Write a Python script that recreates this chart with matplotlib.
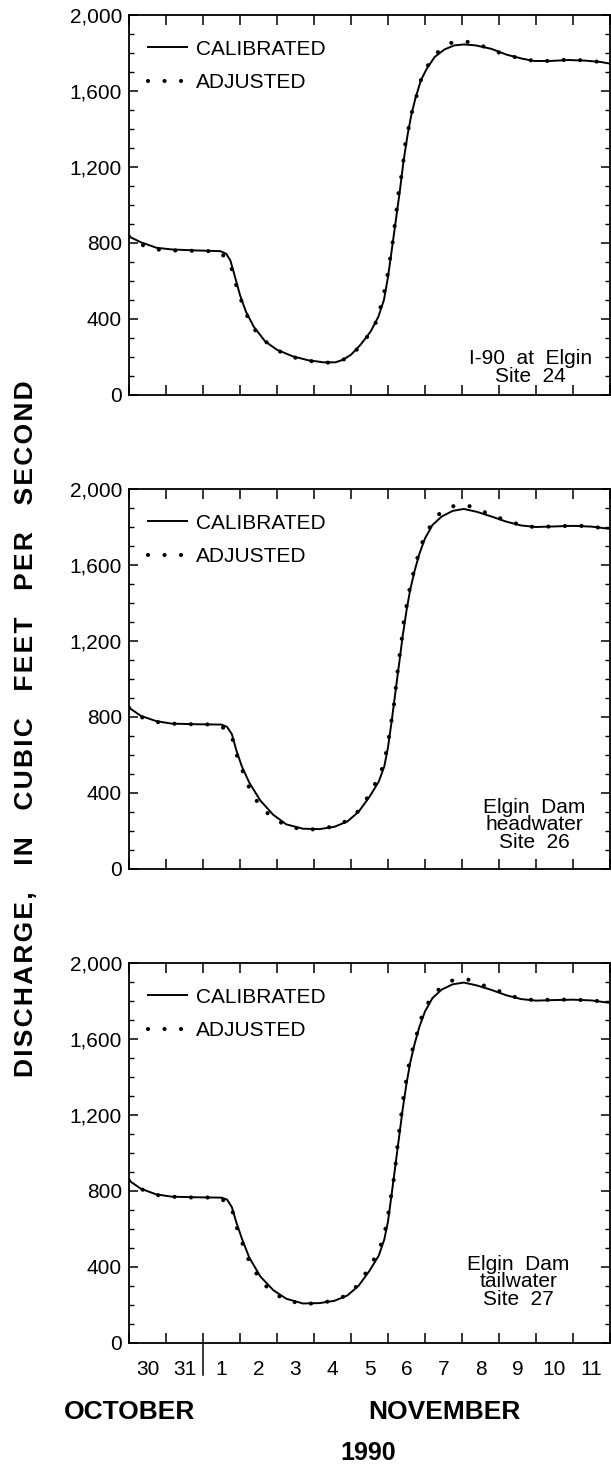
import numpy as np
import matplotlib
matplotlib.use('agg')
import matplotlib.pyplot as plt
import matplotlib.ticker as mticker

plt.rcParams['font.family'] = ['Liberation Sans', 'DejaVu Sans']

# Time axis: days after 0000 hours, October 30, 1990
day_labels = ['30', '31', '1', '2', '3', '4', '5', '6', '7', '8', '9', '10', '11']
month_labels = ['OCTOBER', 'NOVEMBER']
year_label = '1990'
y_words = ['DISCHARGE,', 'IN', 'CUBIC', 'FEET', 'PER', 'SECOND']
site_labels = ['I-90  at  Elgin\nSite  24',
               'Elgin  Dam\nheadwater\nSite  26',
               'Elgin  Dam\ntailwater\nSite  27']

# Site 24 -- I-90 at Elgin
s24_cal_t = [0.0, 0.32, 0.74, 1.16, 1.79, 2.47, 2.63, 2.74, 2.84, 3.0, 3.16, 3.37, 3.68, 4.0,
             4.42, 4.84, 5.26, 5.58, 5.79, 6.0, 6.26, 6.53, 6.74, 6.89, 7.0, 7.1, 7.21, 7.32,
             7.42, 7.53, 7.63, 7.74, 7.89, 8.05, 8.26, 8.53, 8.79, 9.05, 9.37, 9.79, 10.21,
             10.63, 10.95, 11.37, 11.89, 12.32, 12.74, 13.0]
s24_cal_q = [834, 804, 775, 766, 761, 757, 743, 708, 639, 526, 439, 360, 282, 238,
             204, 183, 172, 172, 186, 212, 265, 334, 412, 500, 621, 761, 917, 1074,
             1231, 1370, 1474, 1561, 1657, 1718, 1779, 1819, 1840, 1845, 1840, 1822, 1791,
             1770, 1758, 1758, 1763, 1760, 1753, 1744]
s24_adj_t = [0.0, 0.32, 0.74, 1.17, 1.6, 2.02, 2.47, 2.74, 2.84, 3.0, 3.14, 3.35, 3.63, 3.98,
             4.35, 4.79, 5.21, 5.55, 5.95, 6.24, 6.51, 6.72, 6.93, 7.0, 7.07, 7.14, 7.19,
             7.24, 7.29, 7.37, 7.42, 7.47, 7.56, 7.65, 7.77, 7.89, 8.06, 8.32, 8.66, 9.08,
             9.51, 9.89, 10.21, 10.53, 10.95, 11.37, 11.84, 12.32, 12.74, 13.0]
s24_adj_q = [834, 792, 766, 761, 759, 759, 752, 691, 613, 517, 439, 355, 291, 238,
             204, 181, 172, 169, 198, 256, 325, 399, 569, 647, 735, 822, 909,
             987, 1074, 1161, 1239, 1326, 1408, 1492, 1573, 1657, 1730, 1800, 1852, 1862,
             1840, 1810, 1788, 1774, 1758, 1758, 1765, 1761, 1753, 1744]

# Site 26 -- Elgin Dam headwater
s26_cal_t = [0.0, 0.32, 0.74, 1.16, 1.8, 2.5, 2.65, 2.78, 2.9, 3.05, 3.25, 3.55, 3.9, 4.25,
             4.7, 5.15, 5.55, 5.9, 6.2, 6.5, 6.75, 6.9, 7.0, 7.1, 7.2, 7.3, 7.4, 7.5, 7.6,
             7.72, 7.85, 8.0, 8.2, 8.45, 8.75, 9.05, 9.4, 9.8, 10.2, 10.6, 11.0, 11.5, 12.0,
             12.5, 13.0]
s26_cal_q = [849, 806, 778, 765, 762, 760, 748, 710, 625, 540, 455, 360, 285, 235,
             212, 210, 222, 250, 300, 380, 460, 540, 640, 780, 930, 1080, 1230, 1360, 1470,
             1570, 1660, 1740, 1810, 1855, 1885, 1895, 1880, 1855, 1828, 1808, 1800, 1803, 1806,
             1802, 1790]
s26_adj_t = [0.0, 0.32, 0.74, 1.16, 1.59, 2.01, 2.46, 2.78, 2.85, 3.01, 3.14, 3.33, 3.56, 3.86,
             4.23, 4.67, 5.11, 5.55, 5.92, 6.24, 6.48, 6.69, 6.87, 6.96, 7.03, 7.1, 7.17,
             7.21, 7.26, 7.31, 7.37, 7.42, 7.49, 7.56, 7.66, 7.77, 7.9, 8.09, 8.33, 8.69,
             9.12, 9.55, 9.94, 10.33, 10.71, 11.0, 11.45, 11.87, 12.29, 12.74, 13.0]
s26_adj_q = [849, 800, 774, 765, 762, 762, 757, 706, 631, 553, 474, 396, 326, 274,
             230, 208, 209, 225, 256, 312, 387, 462, 541, 623, 701, 788, 875,
             954, 1041, 1119, 1207, 1294, 1372, 1451, 1538, 1620, 1707, 1787, 1861, 1908,
             1916, 1883, 1852, 1826, 1803, 1800, 1803, 1806, 1806, 1796, 1790]

# Site 27 -- Elgin Dam tailwater
s27_cal_t = [0.0, 0.32, 0.74, 1.16, 1.8, 2.5, 2.65, 2.78, 2.9, 3.05, 3.25, 3.55, 3.9, 4.25,
             4.7, 5.15, 5.55, 5.9, 6.2, 6.5, 6.75, 6.9, 7.0, 7.1, 7.2, 7.3, 7.4, 7.5, 7.6,
             7.72, 7.85, 8.0, 8.2, 8.45, 8.75, 9.05, 9.4, 9.8, 10.2, 10.6, 11.0, 11.5, 12.0,
             12.5, 13.0]
s27_cal_q = [855, 812, 782, 770, 767, 765, 755, 715, 635, 550, 450, 350, 278, 233,
             208, 210, 222, 250, 300, 380, 460, 545, 640, 785, 935, 1085, 1235, 1365, 1475,
             1575, 1665, 1745, 1815, 1860, 1888, 1897, 1882, 1858, 1830, 1810, 1802, 1805, 1807,
             1803, 1790]
s27_adj_t = [0.0, 0.3, 0.74, 1.16, 1.59, 2.01, 2.46, 2.78, 2.85, 3.01, 3.14, 3.33, 3.56, 3.86,
             4.23, 4.67, 5.11, 5.55, 5.94, 6.24, 6.48, 6.69, 6.87, 6.96, 7.03, 7.1, 7.17,
             7.22, 7.26, 7.31, 7.37, 7.42, 7.49, 7.56, 7.66, 7.77, 7.9, 8.09, 8.35, 8.72,
             9.12, 9.55, 9.94, 10.33, 10.71, 11.02, 11.45, 11.87, 12.29, 12.74, 13.0]
s27_adj_q = [855, 812, 779, 770, 766, 766, 765, 716, 636, 564, 474, 403, 328, 269,
             227, 206, 209, 224, 256, 317, 394, 462, 546, 627, 707, 797, 877,
             967, 1044, 1128, 1218, 1298, 1379, 1459, 1543, 1620, 1710, 1791, 1857, 1907,
             1916, 1884, 1857, 1826, 1808, 1805, 1807, 1807, 1805, 1799, 1790]

sites = [(s24_cal_t, s24_cal_q, s24_adj_t, s24_adj_q),
         (s26_cal_t, s26_cal_q, s26_adj_t, s26_adj_q),
         (s27_cal_t, s27_cal_q, s27_adj_t, s27_adj_q)]

# layout in pixels (figure is 611 x 1475 at 100 dpi)
W, H = 611, 1475
left, right = 129, 610
panel_tops = [15, 489, 963]
panel_h = 380
site_xy = [(0.834, 0.025), (0.842, 0.045), (0.809, 0.09)]
fs = 15

fig = plt.figure(figsize=(W / 100, H / 100), dpi=100)

for i, (ct, cq, at, aq) in enumerate(sites):
    ax = fig.add_axes([left / W, 1 - (panel_tops[i] + panel_h) / H,
                       (right - left) / W, panel_h / H])
    ax.plot(ct, cq, color='k', lw=1.4, solid_joinstyle='round', label='CALIBRATED')
    ax.plot(at, aq, color='k', lw=3.0, linestyle=(0, (0.01, 3.95)),
            dash_capstyle='round', label='ADJUSTED')

    ax.set_xlim(0, 13)
    ax.set_ylim(0, 2000)
    ax.xaxis.set_major_locator(mticker.MultipleLocator(1))
    ax.xaxis.set_minor_locator(mticker.FixedLocator(np.arange(0.5, 13, 1)))
    ax.yaxis.set_major_locator(mticker.MultipleLocator(400))
    ax.yaxis.set_minor_locator(mticker.MultipleLocator(100))
    ax.yaxis.set_major_formatter(mticker.StrMethodFormatter('{x:,.0f}'))
    ax.xaxis.set_major_formatter(mticker.NullFormatter())
    ax.tick_params(axis='x', which='major', direction='in', top=True, bottom=True,
                   length=7, width=1.1)
    ax.tick_params(axis='x', which='minor', length=0, pad=12, labelsize=fs)
    ax.tick_params(axis='y', which='major', direction='in', left=True, right=True,
                   length=6.5, width=1.1, labelsize=fs, pad=5)
    ax.tick_params(axis='y', which='minor', direction='in', left=True, right=True,
                   length=3.4, width=1.0)
    if i == 2:
        ax.xaxis.set_minor_formatter(mticker.FixedFormatter(day_labels))
        # month divider below the axis between Oct 31 and Nov 1
        ax.axvline(2, ymin=-0.085, ymax=0, color='k', lw=1.1, clip_on=False)
    else:
        ax.xaxis.set_minor_formatter(mticker.NullFormatter())
    for sp in ax.spines.values():
        sp.set_linewidth(1.3)

    ax.legend(loc='upper left', bbox_to_anchor=(0.04, 0.935), frameon=False,
              fontsize=fs, handlelength=1.85, handletextpad=0.45, labelspacing=0.7,
              borderpad=0, borderaxespad=0)
    ax.text(site_xy[i][0], site_xy[i][1], site_labels[i], transform=ax.transAxes,
            ha='center', va='bottom', multialignment='center', fontsize=fs,
            linespacing=0.9)

# spaced-out axis title: hair spaces between letters, wider gaps between words
hair = '\u200a'
y_label = (hair + '   ' + hair).join(hair.join(w) for w in y_words)
fig.text(26 / W, 1 - 729 / H, y_label, rotation=90, ha='center', va='center',
         fontsize=19, fontweight='bold')
fig.text(130 / W, 1 - 1412 / H, month_labels[0], ha='center', va='center',
         fontsize=19, fontweight='bold')
fig.text(444 / W, 1 - 1412 / H, month_labels[1], ha='center', va='center',
         fontsize=19, fontweight='bold')
fig.text(368 / W, 1 - 1453 / H, year_label, ha='center', va='center',
         fontsize=18, fontweight='bold')

fig.savefig('out.png', dpi=100)
